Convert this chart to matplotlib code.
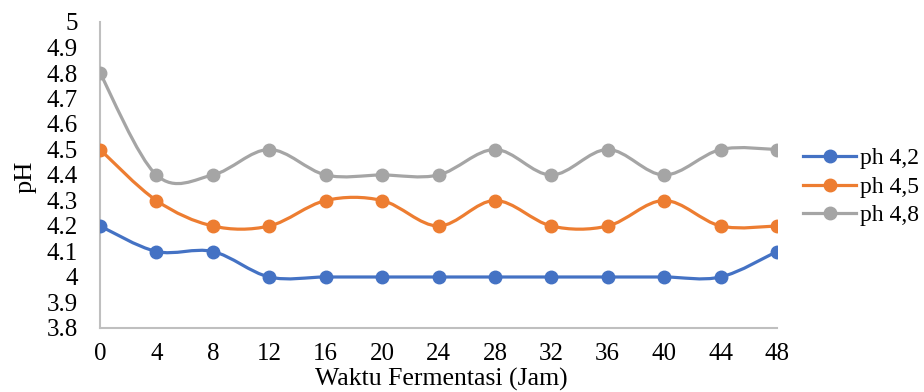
import matplotlib
matplotlib.use("Agg")
import matplotlib.pyplot as plt
import numpy as np
from matplotlib.path import Path
from matplotlib.patches import PathPatch

plt.rcParams["font.family"] = ["Liberation Serif", "DejaVu Serif"]

waktu = [0, 4, 8, 12, 16, 20, 24, 28, 32, 36, 40, 44, 48]
ph_42 = [4.2, 4.1, 4.1, 4.0, 4.0, 4.0, 4.0, 4.0, 4.0, 4.0, 4.0, 4.0, 4.1]
ph_45 = [4.5, 4.3, 4.2, 4.2, 4.3, 4.3, 4.2, 4.3, 4.2, 4.2, 4.3, 4.2, 4.2]
ph_48 = [4.8, 4.4, 4.4, 4.5, 4.4, 4.4, 4.4, 4.5, 4.4, 4.5, 4.4, 4.5, 4.5]

series = [("ph 4,2", ph_42, "#4472C4"),
          ("ph 4,5", ph_45, "#ED7D31"),
          ("ph 4,8", ph_48, "#A5A5A5")]

FS = 18


def smooth_path(x, y):
    # Excel-style smoothed line: cubic Bezier, control points from neighbours / 6
    pts = np.column_stack([x, y]).astype(float)
    n = len(pts)
    verts = [pts[0]]
    codes = [Path.MOVETO]
    for i in range(n - 1):
        p0 = pts[i - 1] if i > 0 else pts[i]
        p1 = pts[i]
        p2 = pts[i + 1]
        p3 = pts[i + 2] if i + 2 < n else pts[i + 1]
        c1 = p1 + (p2 - p0) / 6.0
        c2 = p2 - (p3 - p1) / 6.0
        verts += [c1, c2, p2]
        codes += [Path.CURVE4] * 3
    return Path(verts, codes)


fig = plt.figure(figsize=(9.24, 3.92), dpi=100)
ax = fig.add_axes([100 / 924, 1 - 328 / 392, 677 / 924, 306 / 392])

for label, vals, color in series:
    ax.add_patch(PathPatch(smooth_path(waktu, vals), facecolor="none",
                           edgecolor=color, lw=2.3, capstyle="round", zorder=2))
    ax.plot(waktu, vals, linestyle="none", marker="o", markersize=9,
            color=color, zorder=3)
    ax.plot([], [], color=color, lw=2.3, marker="o", markersize=9, label=label)

ax.set_xlim(0, 48)
ax.set_ylim(3.8, 5.0)
ax.set_xticks(waktu)
ax.set_xticklabels([str(w) for w in waktu])
yt = np.round(np.arange(3.8, 5.01, 0.1), 1)
ax.set_yticks(yt)
ax.set_yticklabels([("%g" % v) for v in yt])
ax.tick_params(axis="both", length=0, labelsize=FS, colors="black")
ax.tick_params(axis="y", pad=16)
ax.tick_params(axis="x", pad=11)

for side in ["top", "right"]:
    ax.spines[side].set_visible(False)
for side in ["left", "bottom"]:
    ax.spines[side].set_color("#BFBFBF")
    ax.spines[side].set_linewidth(1.5)

fig.text(441 / 924, 1 - 386 / 392, "Waktu Fermentasi (Jam)", fontsize=18.5,
         ha="center", va="baseline")
fig.text(26 / 924, 1 - 177 / 392, "pH", fontsize=19, rotation=90,
         ha="center", va="center")

fig.legend(loc="center left", bbox_to_anchor=(803 / 924, 1 - 187 / 392),
           frameon=False, fontsize=17, handlelength=2.25, handletextpad=0.15,
           labelspacing=0.3, borderaxespad=0, borderpad=0)

fig.savefig("out.png", dpi=100)
plt.close(fig)
